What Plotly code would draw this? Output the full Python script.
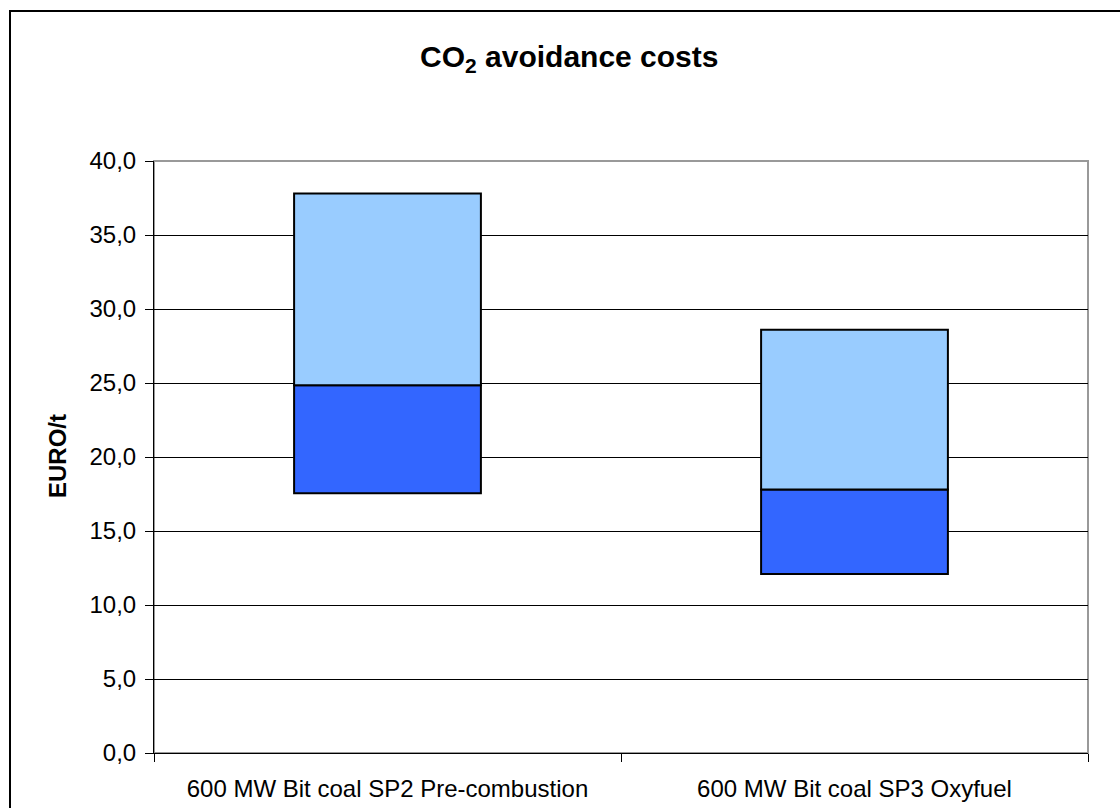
import plotly.graph_objects as go

categories = ["600 MW Bit coal SP2 Pre-combustion", "600 MW Bit coal SP3 Oxyfuel"]
low_values = [17.55, 12.1]
mid_values = [24.85, 17.8]
high_values = [37.8, 28.6]

lower_seg = [m - l for m, l in zip(mid_values, low_values)]
upper_seg = [h - m for h, m in zip(high_values, mid_values)]

L, R, T, B = 154, 32, 161, 55
W, H = 1120, 808
pw = W - L - R
ph = H - T - B

def px(x):
    return (x - L) / pw

def py(y):
    return (H - B - y) / ph

fig = go.Figure()
fig.add_trace(go.Bar(x=categories, y=lower_seg, base=low_values, width=0.4,
                     marker=dict(color="#3366FF", line=dict(color="black", width=2)),
                     showlegend=False, hoverinfo="skip"))
fig.add_trace(go.Bar(x=categories, y=upper_seg, base=mid_values, width=0.4,
                     marker=dict(color="#99CCFF", line=dict(color="black", width=2)),
                     showlegend=False, hoverinfo="skip"))

font = "Liberation Sans, Arial, sans-serif"
fig.update_layout(
    width=W, height=H,
    margin=dict(l=L, r=R, t=T, b=B, autoexpand=False),
    paper_bgcolor="white", plot_bgcolor="white",
    barmode="overlay",
    separators=",.",
    font=dict(family=font, size=24, color="black"),
    xaxis=dict(type="category", tickson="boundaries", ticks="outside", ticklen=8,
               tickcolor="black", showline=True, linecolor="black", linewidth=1,
               showgrid=False, tickfont=dict(size=24), ticklabelstandoff=14,
               automargin=False),
    yaxis=dict(range=[0, 40], dtick=5, tickformat=".1f", ticks="outside", ticklen=8,
               tickcolor="black", showline=True, linecolor="black", linewidth=1,
               showgrid=True, gridcolor="black", gridwidth=1, zeroline=False,
               tickfont=dict(size=24), ticklabelstandoff=4, automargin=False),
    shapes=[
        dict(type="rect", xref="paper", yref="paper", x0=0, x1=1, y0=0, y1=1,
             line=dict(color="#999999", width=2), layer="below"),
        dict(type="rect", xref="paper", yref="paper", x0=px(10), x1=px(1135),
             y0=py(11), y1=py(830), line=dict(color="black", width=2)),
    ],
    annotations=[
        dict(text="<b>CO<sub>2</sub> avoidance costs</b>", xref="paper", yref="paper",
             x=px(569), y=py(58), showarrow=False, font=dict(size=30, family=font),
             xanchor="center", yanchor="middle"),
        dict(text="<b>EURO/t</b>", xref="paper", yref="paper", x=px(57), y=py(456),
             textangle=-90, showarrow=False, font=dict(size=24, family=font),
             xanchor="center", yanchor="middle"),
    ],
)

fig.write_html("out.html", config={"displayModeBar": False},
               post_script="document.body.style.margin='0';document.body.style.overflow='hidden';")
